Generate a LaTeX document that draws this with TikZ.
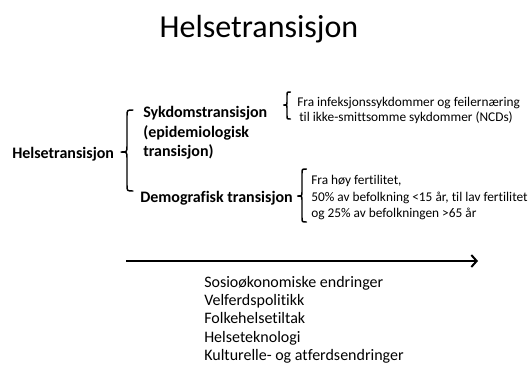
\documentclass[tikz,border=0pt]{standalone}
\usepackage{fontspec}
\setmainfont{Carlito}[Ligatures={NoCommon,NoRare,NoContextual}]
\usetikzlibrary{arrows.meta}

\tikzset{
  titletxt/.style={font=\fontsize{24}{29}\selectfont, inner sep=0pt},
  headtxt/.style={font=\bfseries\fontsize{12}{15}\selectfont, align=left, inner sep=0pt},
  notetxt/.style={font=\fontsize{10}{12.4}\selectfont, align=left, inner sep=0pt},
  listtxt/.style={font=\fontsize{12}{13.7}\selectfont, align=left, inner sep=0pt},
  brak/.style={line width=1.1pt, line join=round, line cap=round},
}
% left bracket with a tick: x, top, mid, bottom, hook
\newcommand{\lbrak}[5]{%
  \draw[brak] (#1+#5,#2) .. controls (#1,#2) .. (#1,#2+#5)
    -- (#1,#3-#5) .. controls (#1,#3) .. (#1-#5,#3)
    .. controls (#1,#3) .. (#1,#3+#5)
    -- (#1,#4-#5) .. controls (#1,#4) .. (#1+#5,#4);}

\begin{document}
\begin{tikzpicture}[x=0.75pt,y=-0.75pt]
\useasboundingbox (0,0) rectangle (531,365);
    \node[titletxt, anchor=base] (title) at (259,37) {Helsetransisjon};
    %
    \node[headtxt, anchor=base west] (helse) at (12,158) {Helsetransisjon};
    \lbrak{127}{110}{152}{191}{6}
    \node[headtxt, anchor=base west] (sykdom) at (143,117) {Sykdomstransisjon};
    \node[headtxt, anchor=base west] (epi) at (143,137) {(epidemiologisk};
    \node[headtxt, anchor=base west] (epi2) at (143,156) {transisjon)};
    \node[headtxt, anchor=base west] (demo) at (140,202) {Demografisk transisjon};
%%%%%%%%%%%%%%%%%%%%%%%%%%%%%%%%%%%%%
    \lbrak{287}{92}{105}{119}{3.5}
    \node[notetxt, anchor=base west] (infek) at (297,106) {Fra infeksjonssykdommer og feilernæring};
    \node[notetxt, anchor=base west] (ncd) at (299,121) {til ikke-smittsomme sykdommer (NCDs)};
    %
    \lbrak{302}{169}{196}{222}{4.5}
    \node[notetxt, anchor=base west] (fert1) at (311,184) {Fra høy fertilitet,};
    \node[notetxt, anchor=base west] (fert2) at (311,201) {50\% av befolkning <15 år, til lav fertilitet};
    \node[notetxt, anchor=base west] (fert3) at (311,217) {og 25\% av befolkningen >65 år};
%%%%%%%%%%%%%%%%%%%%%%%%%%%%%%%%%%%%%
    \coordinate (tidS) at (126,261);
    \coordinate (tidE) at (478,261);
    \draw[-{Straight Barb[length=4pt,width=9pt]}, line width=1.5pt] (tidS) -- (tidE);
    \node[listtxt, anchor=base west] (sosio) at (204,287) {Sosioøkonomiske endringer};
    \node[listtxt, anchor=base west] (velf) at (204,305) {Velferdspolitikk};
    \node[listtxt, anchor=base west] (folk) at (204,323) {Folkehelsetiltak};
    \node[listtxt, anchor=base west] (tekn) at (204,342) {Helseteknologi};
    \node[listtxt, anchor=base west] (kult) at (204,360) {Kulturelle- og atferdsendringer};
\end{tikzpicture}
\end{document}
